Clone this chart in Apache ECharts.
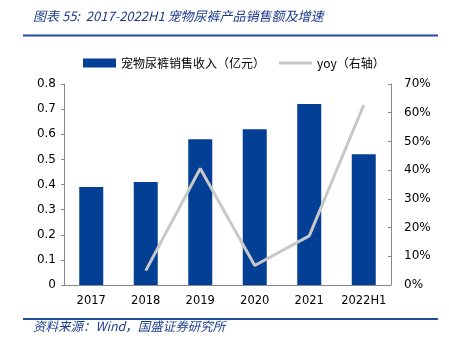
<!DOCTYPE html>
<html><head><meta charset="utf-8">
<script src="https://cdn.jsdelivr.net/npm/echarts@6/dist/echarts.min.js"></script>
<style>html,body{margin:0;padding:0;background:#fff}#c{width:449px;height:342px}</style>
</head><body><div id="c"></div>
<script>
const categories = ['2017','2018','2019','2020','2021','2022H1'];
const sales = [0.39, 0.41, 0.58, 0.62, 0.72, 0.52];
const yoy = [null, 5.0, 40.6, 6.8, 17.1, 62.7];
const leftTicks = [0, 0.8, 0.1];
const rightTicks = [0, 70, 10];

const chart = echarts.init(document.getElementById('c'));
const blue = '#023F95';
const txt = '#1F3B8C';
const axisFont = 'Tahoma, Verdana, "DejaVu Sans", sans-serif';
chart.setOption({
  animation: false,
  backgroundColor: '#fff',
  graphic: [
    {type:'text', left:33, top:10, style:{text:'图表 55:  2017-2022H1 宠物尿裤产品销售额及增速', font:'italic 13px "Noto Sans CJK SC", sans-serif', fill:txt}},
    {type:'rect', shape:{x:23, y:34.5, width:415, height:2}, style:{fill:'#1F4E9C'}},
    {type:'rect', shape:{x:23, y:318, width:415, height:2}, style:{fill:'#1F4E9C'}},
    {type:'text', left:33, top:320, style:{text:'资料来源：Wind，国盛证券研究所', font:'italic 12.5px "Noto Sans CJK SC", sans-serif', fill:txt}}
  ],
  legend: {
    top: 52, left: 78,
    itemWidth: 33, itemHeight: 9, itemGap: 14,
    textStyle: {fontSize: 12, color: '#000', fontFamily: '"Noto Sans CJK SC", sans-serif'},
    data: [
      {name:'宠物尿裤销售收入（亿元）', icon:'rect'},
      {name:'yoy（右轴）', icon:'path://M0,0 L33,0 L33,3 L0,3 Z'}
    ]
  },
  grid: {left: 64, right: 58, top: 84, bottom: 57},
  xAxis: {
    type: 'category', data: categories,
    axisLine: {lineStyle: {color: '#888'}},
    axisTick: {inside: true, length: 3, lineStyle:{color:'#888'}},
    axisLabel: {color:'#000', fontSize: 11.5, fontFamily: axisFont, margin: 10, interval: 0}
  },
  yAxis: [
    {type:'value', min:leftTicks[0], max:leftTicks[1], interval:leftTicks[2],
     splitLine:{show:false},
     axisLine:{show:true, lineStyle:{color:'#888'}},
     axisTick:{show:true, length:3, lineStyle:{color:'#888'}},
     axisLabel:{color:'#000', fontSize:12, fontFamily: axisFont, margin: 8,
       formatter: v => v === 0 ? '0' : v.toFixed(1)}},
    {type:'value', min:rightTicks[0], max:rightTicks[1], interval:rightTicks[2],
     splitLine:{show:false},
     axisLine:{show:true, lineStyle:{color:'#888'}},
     axisTick:{show:true, inside:true, length:3, lineStyle:{color:'#888'}},
     axisLabel:{color:'#000', fontSize:12, fontFamily: axisFont, margin: 13, formatter:'{value}%'}}
  ],
  series: [
    {name:'宠物尿裤销售收入（亿元）', type:'bar', data: sales, barWidth: 24, itemStyle:{color: blue}},
    {name:'yoy（右轴）', type:'line', yAxisIndex:1, data: yoy, symbol:'none', connectNulls:false,
     lineStyle:{color:'#C8C8C8', width:3}, itemStyle:{color:'#C8C8C8'}}
  ]
});
</script></body></html>
